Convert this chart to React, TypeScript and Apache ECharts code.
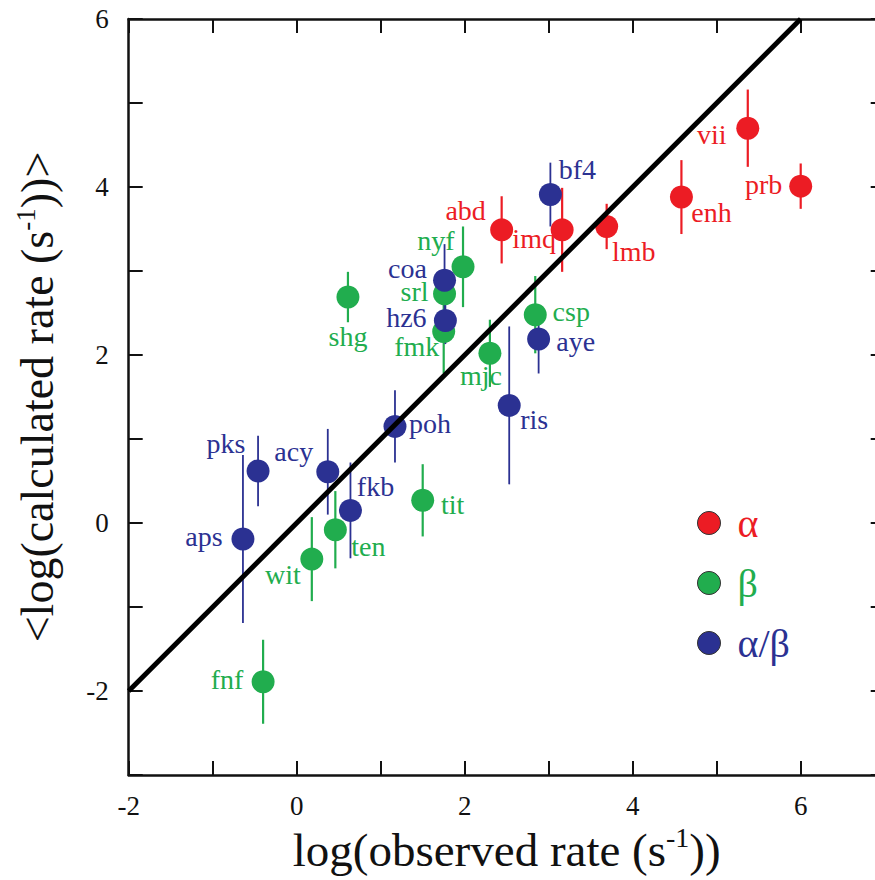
import React, { useEffect, useRef } from "react";
import * as echarts from "echarts";

// α proteins
const alphaNames = ["abd", "imq", "lmb", "enh", "vii", "prb"];
const alphaObserved = [2.44, 3.16, 3.69, 4.58, 5.37, 6.0];
const alphaCalculated = [3.49, 3.49, 3.53, 3.88, 4.7, 4.01];
const alphaError = [0.4, 0.5, 0.27, 0.44, 0.46, 0.27];

// β proteins
const betaNames = ["nyf", "srl", "fmk", "shg", "csp", "mjc", "tit", "ten", "wit", "fnf"];
const betaObserved = [1.98, 1.76, 1.75, 0.61, 2.84, 2.3, 1.5, 0.46, 0.18, -0.4];
const betaCalculated = [3.05, 2.73, 2.28, 2.69, 2.48, 2.02, 0.27, -0.08, -0.43, -1.89];
const betaError = [0.48, 0.25, 0.5, 0.3, 0.46, 0.4, 0.43, 0.46, 0.5, 0.5];

// α/β proteins
const alphaBetaNames = ["bf4", "coa", "hz6", "poh", "pks", "acy", "fkb", "aps", "aye", "ris"];
const alphaBetaObserved = [3.02, 1.76, 1.77, 1.17, -0.46, 0.37, 0.64, -0.64, 2.88, 2.53];
const alphaBetaCalculated = [3.91, 2.89, 2.41, 1.15, 0.62, 0.61, 0.15, -0.19, 2.19, 1.4];
const alphaBetaError = [0.38, 0.43, 0.28, 0.43, 0.42, 0.51, 0.57, 1.0, 0.41, 0.94];

// y = x reference line extent
const identityRange = [-2, 6];

// axis ranges
const xRange = [-2, 7];
const yRange = [-3, 6];

// label placement (pixel offset of label centre from marker centre)
const labelOffsets: Record<string, [number, number]> = {
  abd: [-36, -19], imq: [-28, 9], lmb: [27, 25], enh: [30, 15], vii: [-36, 6], prb: [-37, -2],
  bf4: [27, -25], coa: [-37, -12], hz6: [-39, -3], poh: [35, -3], pks: [-32, -27], acy: [-34, -20],
  fkb: [25, -24], aps: [-39, -2], aye: [37, 2], ris: [25, 14],
  nyf: [-27, -26], srl: [-30, -2], fmk: [-27, 15], shg: [0, 39], csp: [36, -3], mjc: [-9, 22],
  tit: [30, 4], ten: [33, 17], wit: [-29, 15], fnf: [-36, -2],
};

const RED = "#ec1c24";
const GREEN = "#21ad4e";
const BLUE = "#2b3192";
const FONT = "'Liberation Serif', 'Times New Roman', serif";

type Group = {
  name: string;
  color: string;
  names: string[];
  xs: number[];
  ys: number[];
  errs: number[];
};

const groups: Group[] = [
  { name: "β", color: GREEN, names: betaNames, xs: betaObserved, ys: betaCalculated, errs: betaError },
  { name: "α/β", color: BLUE, names: alphaBetaNames, xs: alphaBetaObserved, ys: alphaBetaCalculated, errs: alphaBetaError },
  { name: "α", color: RED, names: alphaNames, xs: alphaObserved, ys: alphaCalculated, errs: alphaError },
];

const evenOnly = (v: number) => (Math.round(v) % 2 === 0 ? String(v) : "");

export default function App() {
  const ref = useRef<HTMLDivElement>(null);

  useEffect(() => {
    if (!ref.current) return;
    const chart = echarts.init(ref.current, undefined, { renderer: "svg" });

    const axisLine = { onZero: false, lineStyle: { color: "#111", width: 2.5 } };
    const axisTick = { inside: true, length: 14, lineStyle: { color: "#111", width: 2 } };

    const series: any[] = [
      {
        type: "line",
        name: "identity",
        data: identityRange.map((v) => [v, v]),
        symbol: "none",
        silent: true,
        lineStyle: { color: "#000", width: 5 },
      },
    ];

    groups.forEach((g) => {
      series.push({
        type: "custom",
        name: g.name + " error",
        data: g.xs.map((x, i) => [x, g.ys[i], g.errs[i]]),
        renderItem: (params: any, api: any) => {
          const x = api.value(0);
          const y = api.value(1);
          const e = api.value(2);
          const p1 = api.coord([x, y + e]);
          const p2 = api.coord([x, y - e]);
          return {
            type: "line",
            shape: { x1: p1[0], y1: p1[1], x2: p2[0], y2: p2[1] },
            style: { stroke: g.color, lineWidth: g.color === BLUE ? 1.8 : 2.2 },
          };
        },
        silent: true,
      });
      series.push({
        type: "scatter",
        name: g.name,
        symbol: "circle",
        symbolSize: 23,
        itemStyle: { color: g.color, opacity: 1 },
        data: g.xs.map((x, i) => ({ value: [x, g.ys[i]], name: g.names[i] })),
        label: {
          show: true,
          position: "inside",
          formatter: (p: any) => p.name,
          color: g.color,
          fontSize: 28,
          lineHeight: 20,
          fontFamily: FONT,
          align: "center",
          verticalAlign: "middle",
        },
        labelLayout: (p: any) => {
          const o = labelOffsets[g.names[p.dataIndex]] || [0, 0];
          return { dx: o[0], dy: o[1], hideOverlap: false };
        },
      });
    });

    chart.setOption({
      animation: false,
      backgroundColor: "#fff",
      textStyle: { fontFamily: FONT },
      grid: { left: 128.7, top: 19, width: 756, height: 756, containLabel: false },
      legend: {
        orient: "vertical",
        left: 692,
        top: 498,
        itemWidth: 23,
        itemHeight: 23,
        itemGap: 20,
        icon: "circle",
        selectedMode: false,
        itemStyle: { borderColor: "#333", borderWidth: 1 },
        textStyle: { fontSize: 40, lineHeight: 40, fontFamily: FONT, padding: [0, 0, 0, 12] },
        data: [
          { name: "α", textStyle: { color: RED, fontFamily: FONT, fontSize: 40 } },
          { name: "β", textStyle: { color: GREEN, fontFamily: FONT, fontSize: 40 } },
          { name: "α/β", textStyle: { color: BLUE, fontFamily: FONT, fontSize: 40 } },
        ],
      },
      xAxis: [
        {
          type: "value",
          position: "bottom",
          min: xRange[0],
          max: xRange[1],
          interval: 1,
          axisLine,
          axisTick,
          splitLine: { show: false },
          axisLabel: { formatter: evenOnly, fontSize: 27, color: "#111", fontFamily: FONT, margin: 17 },
          name: "{m|log(observed rate (s}{s|-1}{m|))}",
          nameLocation: "middle",
          nameGap: 48,
          nameTextStyle: {
            rich: {
              m: { fontSize: 47, lineHeight: 52, fontFamily: FONT, color: "#111" },
              s: { fontSize: 28, lineHeight: 28, fontFamily: FONT, color: "#111", verticalAlign: "top" },
            },
          },
        },
        {
          type: "value",
          position: "top",
          min: xRange[0],
          max: xRange[1],
          interval: 1,
          axisLine,
          axisTick,
          splitLine: { show: false },
          axisLabel: { show: false },
        },
      ],
      yAxis: [
        {
          type: "value",
          position: "left",
          min: yRange[0],
          max: yRange[1],
          interval: 1,
          axisLine,
          axisTick,
          splitLine: { show: false },
          axisLabel: { formatter: evenOnly, fontSize: 27, color: "#111", fontFamily: FONT, margin: 20 },
          name: "{m|<log(calculated rate (s}{s|-1}{m|))>}",
          nameLocation: "middle",
          nameGap: 66,
          nameTextStyle: {
            rich: {
              m: { fontSize: 46, lineHeight: 50, fontFamily: FONT, color: "#111" },
              s: { fontSize: 27, lineHeight: 27, fontFamily: FONT, color: "#111", verticalAlign: "top" },
            },
          },
        },
        {
          type: "value",
          position: "right",
          min: yRange[0],
          max: yRange[1],
          interval: 1,
          axisLine,
          axisTick,
          splitLine: { show: false },
          axisLabel: { show: false },
        },
      ],
      series,
    });

    return () => chart.dispose();
  }, []);

  return (
    <div style={{ position: "fixed", left: 0, top: 0, width: 875, height: 880, overflow: "hidden", background: "#fff" }}>
      <div ref={ref} style={{ width: 900, height: 880 }} />
    </div>
  );
}
